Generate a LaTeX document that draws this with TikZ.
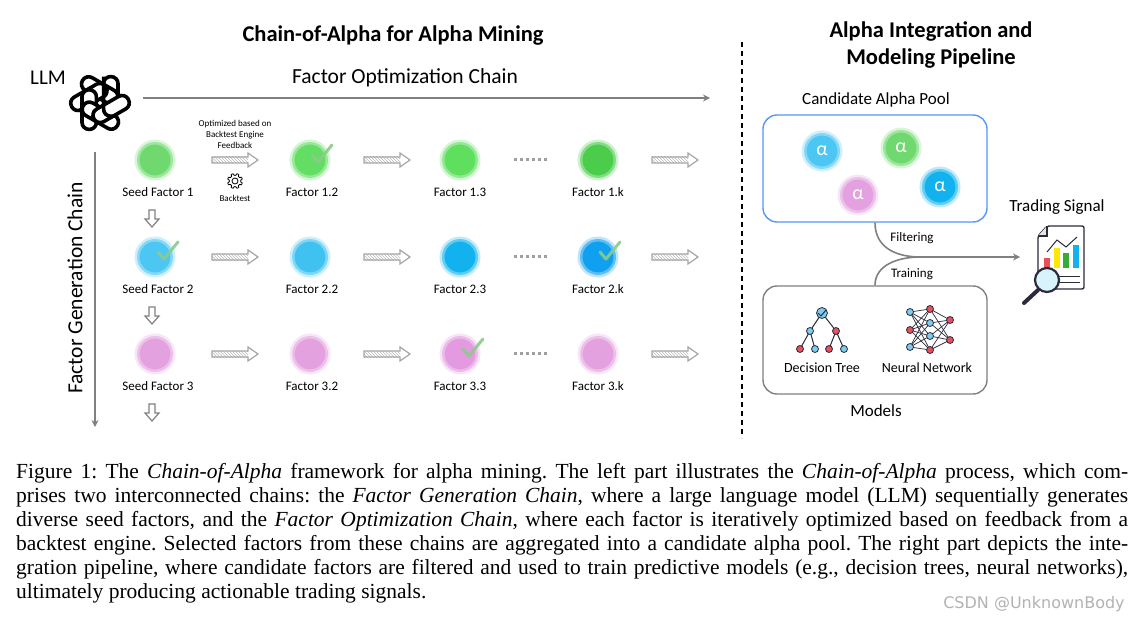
\documentclass[tikz,border=0pt]{standalone}
\usepackage{fontspec}
\setmainfont{Liberation Serif}
\newfontfamily\cbr{Carlito}
\usetikzlibrary{arrows.meta,patterns}
\definecolor{gA}{HTML}{6FD96F}
\definecolor{bA}{HTML}{4CC6F2}
\definecolor{bB}{HTML}{12B2EE}
\definecolor{pA}{HTML}{E3A2DF}
\definecolor{ck}{HTML}{8CCB8C}
\definecolor{redn}{HTML}{E8505B}
\definecolor{bluen}{HTML}{7FCDEE}
\definecolor{dk}{HTML}{2B2B3A}
\tikzset{
 lbl/.style={font=\cbr\fontsize{13}{14}\selectfont},
 glow/.style={fill=#1, draw=#1!45, line width=5pt, draw opacity=0.6},
 fac/.style={circle, minimum size=36pt, inner sep=0pt, glow=#1},
 chain/.style={draw=gray, line width=1.6pt, -{Stealth[length=7pt,width=7pt]}},
 chk/.style={draw=ck, line width=3pt, line cap=round, line join=round, opacity=0.9},
 nn/.style={circle, minimum size=7pt, inner sep=0pt, draw=dk, line width=0.8pt},
}
\newcommand{\hatcharrow}[2]{%
 \fill[pattern=north west lines, pattern color=gray!55] (#1,#2-3) rectangle (#1+36,#2+3);
 \draw[gray!70, line width=1.2pt] (#1,#2-3) -- (#1+36,#2-3) -- (#1+36,#2-7) -- (#1+46,#2) -- (#1+36,#2+7) -- (#1+36,#2+3) -- (#1,#2+3) -- cycle;}
\newcommand{\downarr}[2]{%
 \draw[gray, line width=1.2pt, fill=white] (#1-3,#2) -- (#1+3,#2) -- (#1+3,#2+9) -- (#1+7,#2+9) -- (#1,#2+17) -- (#1-7,#2+9) -- (#1-3,#2+9) -- cycle;}
\newcommand{\ckmark}[2]{\draw[chk] (#1,#2) -- (#1+6,#2+7) -- (#1+20,#2-10);}
\begin{document}
\begin{tikzpicture}[x=1pt,y=-1pt]
\useasboundingbox (0,0) rectangle (1146,623);
% titles
\node[font=\cbr\bfseries\fontsize{22.5}{26}\selectfont] (t1) at (393,36) {Chain-of-Alpha for Alpha Mining};
\node[font=\cbr\bfseries\fontsize{22.5}{27}\selectfont, align=center] (t2) at (931,45) {Alpha Integration and\\Modeling Pipeline};
\node[font=\cbr\fontsize{21}{22}\selectfont] (llm) at (48,78) {LLM};
% logo
\begin{scope}[shift={(100,103)}, scale=1.2]
\foreach \a in {0,60,...,300}{
 \draw[rotate=\a, line width=3.6pt, rounded corners=7pt, fill=white] (3,-22) rectangle (15,11);
}
\draw[line width=3.6pt, rounded corners=7pt] (3,-22) -- (3,11) -- (15,11);
\end{scope}
\coordinate (h0) at (143,98); \coordinate (h1) at (710,98);
\draw[chain] (h0) -- (h1);
\node[font=\cbr\fontsize{21.5}{22}\selectfont] (foc) at (405,78) {Factor Optimization Chain};
\coordinate (v0) at (95,152); \coordinate (v1) at (95,427);
\draw[chain] (v0) -- (v1);
\node[font=\cbr\fontsize{21.5}{22}\selectfont, rotate=90] (fgc) at (75,288) {Factor Generation Chain};
% factors
\foreach \r/\y/\c/\s in {1/160/gA/Seed Factor 1, 2/257/bA/Seed Factor 2, 3/354/pA/Seed Factor 3}{
 \node[fac=\c] (f\r1) at (155,\y) {};
 \node[lbl] at (158,\y+32) {\s};
}
\node[fac=gA!90!green] (f12) at (310,160) {};
\node[fac=gA!85!green] (f13) at (460,160) {};
\node[fac=gA!75!green!90!black] (f1k) at (598,160) {};
\node[fac=bA!80!bB] (f22) at (310,257) {};
\node[fac=bB] (f23) at (460,257) {};
\node[fac=bB!90!blue] (f2k) at (598,257) {};
\node[fac=pA] (f32) at (310,354) {};
\node[fac=pA!95!magenta] (f33) at (460,354) {};
\node[fac=pA] (f3k) at (598,354) {};
\foreach \r/\y in {1/160,2/257,3/354}{
 \node[lbl] at (312,\y+32) {Factor \r.2};
 \node[lbl] at (460,\y+32) {Factor \r.3};
 \node[lbl] at (598,\y+32) {Factor \r.k};
 \hatcharrow{212}{\y}
 \hatcharrow{364}{\y}
 \hatcharrow{652}{\y}
 \foreach \k in {0,...,5}{\fill[gray!75] (514+\k*6,\y-2) rectangle +(3,3);}
 \downarr{152}{\y+50}
}
\ckmark{312}{155}\ckmark{158}{252}\ckmark{600}{252}\ckmark{463}{349}
\node[font=\cbr\fontsize{9}{11}\selectfont, align=center] (opt) at (235,134) {Optimized based on\\Backtest Engine\\Feedback};
\begin{scope}[shift={(235,181)}]
\draw[line width=0.8pt] (0,0) circle (3);
\draw[line width=0.8pt] plot[smooth cycle, samples=48, domain=0:352.5] (\x:{7.5-1.8*(cos(8*\x)>0)});
\end{scope}
\node[font=\cbr\fontsize{9}{10}\selectfont] (bt) at (235,198) {Backtest};
% separator
\draw[dash pattern=on 5pt off 4pt, line width=1.2pt] (742,42) -- (742,438);
% pool
\node[font=\cbr\fontsize{17}{18}\selectfont] (cap) at (876,100) {Candidate Alpha Pool};
\node[draw=bB!60!blue!70, line width=1.4pt, rounded corners=14pt, minimum width=224pt, minimum height=107pt] (pool) at (875,168.5) {};
\foreach \n/\x/\y/\c in {a1/822/151/bA, a2/901/148/gA, a3/858/195/pA, a4/940/187/bB}{
 \node[circle, minimum size=36pt, inner sep=0pt, glow=\c, text=white, font=\fontsize{20}{20}\selectfont\cbr] (\n) at (\x,\y) {α};
}
% models
\node[draw=gray, line width=1.4pt, rounded corners=14pt, minimum width=224pt, minimum height=108pt] (mod) at (875,340) {};
\node[font=\cbr\fontsize{17}{18}\selectfont] (ml) at (876,411) {Models};
\node[font=\cbr\fontsize{14}{14}\selectfont] at (822,368) {Decision Tree};
\node[font=\cbr\fontsize{14}{14}\selectfont] at (927,368) {Neural Network};
% decision tree
\draw[dk, line width=1pt] (822,313) -- (810,331) (822,313) -- (836,331) (810,331) -- (800,349) (810,331)--(815,349) (836,331)--(829,349) (836,331)--(844,349);
\node[nn, fill=bluen, minimum size=11pt] at (822,313) {};
\draw[dk, line width=1pt] (818,313) -- (821,316) -- (826,310);
\node[nn, fill=bluen] at (810,331) {}; \node[nn, fill=redn] at (836,331) {};
\node[nn, fill=redn] at (800,349) {}; \node[nn, fill=bluen] at (815,349) {};
\node[nn, fill=redn] at (829,349) {}; \node[nn, fill=bluen] at (844,349) {};
% neural net
\foreach \i/\x/\y in {n1/910/312,n2/910/330,n3/910/347,m1/930/309,m2/930/323,m3/930/336,m4/930/350,o1/950/320,o2/950/340}{\coordinate (\i) at (\x,\y);}
\foreach \a in {n1,n2,n3}{\foreach \b in {m1,m2,m3,m4}{\draw[dk, line width=0.7pt] (\a) -- (\b);}}
\foreach \a in {m1,m2,m3,m4}{\foreach \b in {o1,o2}{\draw[dk, line width=0.7pt] (\a) -- (\b);}}
\foreach \i/\x/\y/\c in {n1/910/312/bluen,n2/910/330/redn,n3/910/347/bluen,m1/930/309/redn,m2/930/323/bluen,m3/930/336/bluen,m4/930/350/redn,o1/950/320/redn,o2/950/340/redn}{\node[nn, fill=\c] at (\x,\y) {};}
% merge arrows
\coordinate (jn) at (920,257); \coordinate (ts) at (1020,257);
\draw[gray, line width=1.6pt] (pool.south) .. controls (875,250) and (900,257) .. (jn);
\draw[gray, line width=1.6pt] (mod.north) .. controls (875,264) and (900,257) .. (jn);
\draw[chain] (jn) -- (ts);
\node[font=\cbr\fontsize{13}{14}\selectfont] at (912,238) {Filtering};
\node[font=\cbr\fontsize{13}{14}\selectfont] at (912,274) {Training};
\node[font=\cbr\fontsize{17}{18}\selectfont] (tsl) at (1057,207) {Trading Signal};
% icon
\draw[dk, line width=1.4pt, fill=white, rounded corners=2pt] (1047,226) -- (1084,226) -- (1084,289) -- (1038,289) -- (1038,236) -- cycle;
\draw[dk, line width=1.4pt, fill=gray!20] (1047,226) -- (1047,236) -- (1038,236);
\fill[redn] (1044,258) rectangle (1050,268);
\fill[yellow!90!orange] (1054,248) rectangle (1060,268);
\fill[green!60!black!80] (1063,253) rectangle (1069,268);
\fill[bB] (1073,245) rectangle (1079,268);
\draw[dk, line width=1pt] (1047,252) -- (1057,240) -- (1066,247) -- (1077,237);
\draw[dk, line width=1pt] (1058,276) -- (1080,276) (1058,282) -- (1080,282);
\draw[dk, line width=4pt, line cap=round] (1038,290) -- (1024,303);
\draw[dk, fill=cyan!15, line width=2.2pt] (1047,280) circle (12);
% caption
\node[anchor=north west, inner sep=0pt, text width=1112pt, font=\fontsize{21.5}{24}\selectfont\frenchspacing, align=justify] (capt) at (16,463) {Figure 1: The \textit{Chain-of-Alpha} framework for alpha mining. The left part illustrates the \textit{Chain-of-Alpha} process, which com-\linebreak prises two interconnected chains: the \textit{Factor Generation Chain}, where a large language model (LLM) sequentially generates\linebreak diverse seed factors, and the \textit{Factor Optimization Chain}, where each factor is iteratively optimized based on feedback from a\linebreak backtest engine. Selected factors from these chains are aggregated into a candidate alpha pool. The right part depicts the inte-\linebreak gration pipeline, where candidate factors are filtered and used to train predictive models (e.g., decision trees, neural networks),\linebreak ultimately producing actionable trading signals.};
\node[font=\fontspec{DejaVu Sans}\fontsize{16}{16}\selectfont, text=gray!60] (wm) at (1034,604) {CSDN @UnknownBody};
\end{tikzpicture}
\end{document}
